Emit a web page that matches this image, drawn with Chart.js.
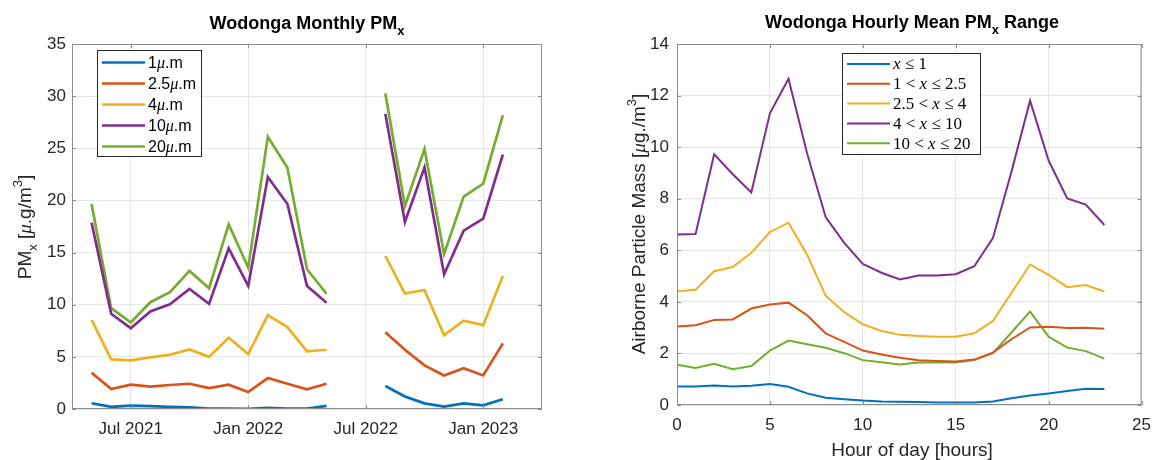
<!DOCTYPE html>
<html>
<head>
<meta charset="utf-8">
<script src="https://cdn.jsdelivr.net/npm/chart.js@4.4.1/dist/chart.umd.min.js"></script>
<style>
  body { margin: 0; background: #fff; width: 1161px; height: 460px; overflow: hidden; position: relative; }
  #monthlyChart { position: absolute; left: 0; top: 0; }
  #hourlyChart { position: absolute; left: 580px; top: 0; }
</style>
</head>
<body>
<canvas id="monthlyChart" width="580" height="460"></canvas>
<canvas id="hourlyChart" width="581" height="460"></canvas>
<script>
// ---- monthly data (left) ----
const months = ['2021-05', '2021-06', '2021-07', '2021-08', '2021-09', '2021-10', '2021-11', '2021-12',
                '2022-01', '2022-02', '2022-03', '2022-04', '2022-05', '2022-06', '2022-07', '2022-08',
                '2022-09', '2022-10', '2022-11', '2022-12', '2023-01', '2023-02'];
const pm1  = [0.55, 0.2, 0.33, 0.27, 0.2, 0.15, 0.05, 0.03, 0.02, 0.1, 0.03, 0.03, 0.3, null, null, 2.2, 1.2, 0.54, 0.22, 0.54, 0.35, 0.93];
const pm25 = [3.48, 1.91, 2.33, 2.14, 2.3, 2.42, 2.0, 2.33, 1.63, 2.97, 2.42, 1.88, 2.42, null, null, 7.37, 5.68, 4.18, 3.22, 3.92, 3.22, 6.29];
const pm4  = [8.55, 4.75, 4.66, 4.95, 5.2, 5.71, 5.0, 6.83, 5.26, 9.0, 7.85, 5.52, 5.68, null, null, 14.68, 11.07, 11.42, 7.08, 8.46, 8.04, 12.76];
const pm10 = [17.87, 9.13, 7.75, 9.35, 10.05, 11.52, 10.08, 15.4, 11.8, 22.24, 19.66, 11.8, 10.18, null, null, 28.3, 17.93, 23.17, 12.92, 17.1, 18.25, 24.4];
const pm20 = [19.65, 9.67, 8.3, 10.24, 11.2, 13.24, 11.58, 17.7, 13.56, 26.1, 23.13, 13.4, 11.04, null, null, 30.25, 19.46, 24.92, 14.87, 20.36, 21.6, 28.17];
const axisStart = '2021-04';
const axisEnd = '2023-04';
const xTickMonths = ['2021-07', '2022-01', '2022-07', '2023-01'];
const xTickLabels = ['Jul 2021', 'Jan 2022', 'Jul 2022', 'Jan 2023'];

// ---- hourly data (right) ----
const hours = [0, 1, 2, 3, 4, 5, 6, 7, 8, 9, 10, 11, 12, 13, 14, 15, 16, 17, 18, 19, 20, 21, 22, 23];
const rangeLe1   = [0.72, 0.72, 0.76, 0.72, 0.75, 0.81, 0.71, 0.45, 0.28, 0.22, 0.17, 0.14, 0.13, 0.12, 0.1, 0.1, 0.1, 0.14, 0.26, 0.37, 0.45, 0.54, 0.63, 0.62];
const range1to25 = [3.04, 3.09, 3.3, 3.32, 3.74, 3.9, 3.97, 3.48, 2.78, 2.45, 2.11, 1.96, 1.83, 1.74, 1.71, 1.69, 1.76, 2.03, 2.55, 3.01, 3.03, 2.99, 3.0, 2.96];
const range25to4 = [4.4, 4.47, 5.19, 5.35, 5.9, 6.71, 7.07, 5.83, 4.24, 3.6, 3.13, 2.87, 2.72, 2.68, 2.65, 2.65, 2.78, 3.26, 4.35, 5.45, 5.05, 4.57, 4.65, 4.4];
const range4to10 = [6.61, 6.63, 9.72, 8.95, 8.24, 11.31, 12.65, 9.76, 7.29, 6.29, 5.47, 5.13, 4.87, 5.02, 5.02, 5.07, 5.38, 6.47, 9.05, 11.8, 9.48, 8.01, 7.77, 6.98];
const range10to20 = [1.56, 1.44, 1.6, 1.39, 1.51, 2.11, 2.5, 2.36, 2.22, 2.01, 1.74, 1.66, 1.57, 1.65, 1.65, 1.65, 1.74, 2.01, 2.81, 3.62, 2.65, 2.23, 2.09, 1.8];

const colors = ['#0072BD', '#D95319', '#EDB120', '#7E2F8E', '#77AC30'];
const sans = "'Liberation Sans', Arial, sans-serif";
const serif = "'Liberation Serif', 'Times New Roman', serif";
const textColor = '#262626';

function monthIndex(s) {
    const [y, m] = s.split('-').map(Number);
    const [y0, m0] = axisStart.split('-').map(Number);
    return (y - y0) * 12 + (m - m0);
}

// draw a run of text pieces with different fonts / offsets
function drawRich(ctx, parts, x, y, align) {
    let w = 0;
    parts.forEach(p => { ctx.font = p.font; w += ctx.measureText(p.t).width; });
    let cx = align === 'center' ? x - w / 2 : x;
    parts.forEach(p => {
        ctx.font = p.font;
        ctx.fillText(p.t, cx, y + (p.dy || 0));
        cx += ctx.measureText(p.t).width;
    });
}

// axes box, inward ticks, title, axis labels and legend, MATLAB style
const matlabPlugin = {
    id: 'matlab',
    afterDatasetsDraw(chart, args, opts) {
        const ctx = chart.ctx;
        const a = chart.chartArea;
        const xs = chart.scales.x, ys = chart.scales.y;
        ctx.save();
        ctx.strokeStyle = '#8c8c8c';
        ctx.lineWidth = 1;
        ctx.strokeRect(a.left + 0.5, a.top + 0.5, a.right - a.left - 1, a.bottom - a.top - 1);
        ctx.beginPath();
        xs.ticks.forEach(t => {
            const px = Math.round(xs.getPixelForValue(t.value)) + 0.5;
            ctx.moveTo(px, a.bottom); ctx.lineTo(px, a.bottom - 4);
            ctx.moveTo(px, a.top); ctx.lineTo(px, a.top + 4);
        });
        ys.ticks.forEach(t => {
            const py = Math.round(ys.getPixelForValue(t.value)) + 0.5;
            ctx.moveTo(a.left, py); ctx.lineTo(a.left + 4, py);
            ctx.moveTo(a.right, py); ctx.lineTo(a.right - 4, py);
        });
        ctx.stroke();
        ctx.restore();
    },
    afterDraw(chart, args, opts) {
        const ctx = chart.ctx;
        ctx.save();
        ctx.fillStyle = '#000';
        ctx.textBaseline = 'alphabetic';
        drawRich(ctx, opts.title, opts.titleX, opts.titleY, 'center');

        ctx.fillStyle = textColor;
        if (opts.xLabel) drawRich(ctx, opts.xLabel, opts.xLabelX, opts.xLabelY, 'center');
        ctx.save();
        ctx.translate(opts.yLabelX, opts.yLabelY);
        ctx.rotate(-Math.PI / 2);
        drawRich(ctx, opts.yLabel, 0, 0, 'center');
        ctx.restore();

        const L = opts.legend;
        ctx.fillStyle = '#fff';
        ctx.fillRect(L.x, L.y, L.w, L.h);
        ctx.strokeStyle = '#262626';
        ctx.lineWidth = 1;
        ctx.strokeRect(L.x + 0.5, L.y + 0.5, L.w - 1, L.h - 1);
        ctx.textBaseline = 'middle';
        chart.data.datasets.forEach((ds, i) => {
            const ry = L.y + L.first + i * L.step;
            ctx.strokeStyle = ds.borderColor;
            ctx.lineWidth = L.lineWidth;
            ctx.beginPath();
            ctx.moveTo(L.x + 5, ry); ctx.lineTo(L.x + 5 + L.sample, ry);
            ctx.stroke();
            ctx.fillStyle = '#000';
            drawRich(ctx, L.labels[i], L.x + 8 + L.sample, ry + 1, 'left');
        });
        ctx.restore();
    }
};

function lineSet(data, i, width) {
    return {
        data: data,
        borderColor: colors[i],
        backgroundColor: colors[i],
        borderWidth: width,
        pointRadius: 0,
        tension: 0,
        spanGaps: false
    };
}

const tickFont = { family: sans, size: 17 };
const gridColor = '#e6e6e6';

// ---------- left chart ----------
const monthX = months.map(monthIndex);
const toPts = arr => arr.map((v, i) => ({ x: monthX[i], y: v }));
const muLabel = pre => [
    { t: pre, font: '16px ' + sans },
    { t: 'μ', font: 'italic 16px ' + serif },
    { t: '.m', font: '16px ' + sans }
];

new Chart(document.getElementById('monthlyChart'), {
    type: 'line',
    data: {
        datasets: [
            lineSet(toPts(pm1), 0, 2.7),
            lineSet(toPts(pm25), 1, 2.7),
            lineSet(toPts(pm4), 2, 2.7),
            lineSet(toPts(pm10), 3, 2.7),
            lineSet(toPts(pm20), 4, 2.7)
        ]
    },
    options: {
        responsive: false,
        animation: false,
        devicePixelRatio: 1,
        layout: { padding: { left: 0, right: 38, top: 44, bottom: 0 } },
        plugins: {
            legend: { display: false },
            tooltip: { enabled: false },
            matlab: {
                title: [
                    { t: 'Wodonga Monthly PM', font: 'bold 18px ' + sans },
                    { t: 'x', font: 'bold 13px ' + sans, dy: 6 }
                ],
                titleX: 307, titleY: 29,
                yLabel: [
                    { t: 'PM', font: '19px ' + sans },
                    { t: 'x', font: '13px ' + sans, dy: 6 },
                    { t: ' [', font: '19px ' + sans },
                    { t: 'μ', font: 'italic 19px ' + serif },
                    { t: '.g/m', font: '19px ' + sans },
                    { t: '3', font: '13px ' + sans, dy: -9 },
                    { t: ']', font: '19px ' + sans }
                ],
                yLabelX: 31, yLabelY: 227,
                legend: {
                    x: 97, y: 50, w: 105, h: 107, first: 12.5, step: 21, sample: 43, lineWidth: 2.7,
                    labels: [muLabel('1'), muLabel('2.5'), muLabel('4'), muLabel('10'), muLabel('20')]
                }
            }
        },
        scales: {
            x: {
                type: 'linear',
                min: monthIndex(axisStart),
                max: monthIndex(axisEnd),
                afterFit: s => { s.height = 51; },
                afterBuildTicks: s => { s.ticks = xTickMonths.map(m => ({ value: monthIndex(m) })); },
                ticks: {
                    font: tickFont, color: textColor, padding: 10, maxRotation: 0,
                    callback: v => xTickLabels[xTickMonths.map(monthIndex).indexOf(v)]
                },
                grid: { color: gridColor, drawTicks: false },
                border: { display: false }
            },
            y: {
                min: 0, max: 35,
                afterFit: s => { s.width = 72; },
                ticks: { stepSize: 5, font: tickFont, color: textColor, padding: 6 },
                grid: { color: gridColor, drawTicks: false },
                border: { display: false }
            }
        }
    },
    plugins: [matlabPlugin]
});

// ---------- right chart ----------
const hourPts = arr => arr.map((v, i) => ({ x: hours[i], y: v }));
const rel = (parts) => parts.map(p => {
    if (p === 'x') return { t: 'x', font: 'italic 17px ' + serif };
    return { t: p, font: '17px ' + serif };
});

new Chart(document.getElementById('hourlyChart'), {
    type: 'line',
    data: {
        datasets: [
            lineSet(hourPts(rangeLe1), 0, 2),
            lineSet(hourPts(range1to25), 1, 2),
            lineSet(hourPts(range25to4), 2, 2),
            lineSet(hourPts(range4to10), 3, 2),
            lineSet(hourPts(range10to20), 4, 2)
        ]
    },
    options: {
        responsive: false,
        animation: false,
        devicePixelRatio: 1,
        layout: { padding: { left: 0, right: 14, top: 44, bottom: 0 } },
        plugins: {
            legend: { display: false },
            tooltip: { enabled: false },
            matlab: {
                title: [
                    { t: 'Wodonga Hourly Mean PM', font: 'bold 18px ' + sans },
                    { t: 'x', font: 'bold 13px ' + sans, dy: 6 },
                    { t: ' Range', font: 'bold 18px ' + sans }
                ],
                titleX: 332, titleY: 28,
                xLabel: [{ t: 'Hour of day [hours]', font: '19px ' + sans }],
                xLabelX: 332, xLabelY: 456,
                yLabel: [
                    { t: 'Airborne Particle Mass [', font: '19px ' + sans },
                    { t: 'μ', font: 'italic 19px ' + serif },
                    { t: 'g./m', font: '19px ' + sans },
                    { t: '3', font: '13px ' + sans, dy: -9 },
                    { t: ']', font: '19px ' + sans }
                ],
                yLabelX: 65, yLabelY: 224,
                legend: {
                    x: 262, y: 53, w: 139, h: 102, first: 11, step: 19.8, sample: 43, lineWidth: 2,
                    labels: [
                        rel(['x', ' ≤ 1']),
                        rel(['1 < ', 'x', ' ≤ 2.5']),
                        rel(['2.5 < ', 'x', ' ≤ 4']),
                        rel(['4 < ', 'x', ' ≤ 10']),
                        rel(['10 < ', 'x', ' ≤ 20'])
                    ]
                }
            }
        },
        scales: {
            x: {
                type: 'linear',
                min: 0, max: 25,
                afterFit: s => { s.height = 55; },
                ticks: { stepSize: 5, font: tickFont, color: textColor, padding: 10, maxRotation: 0 },
                grid: { color: gridColor, drawTicks: false },
                border: { display: false }
            },
            y: {
                min: 0, max: 14,
                afterFit: s => { s.width = 97; },
                ticks: { stepSize: 2, font: tickFont, color: textColor, padding: 8 },
                grid: { color: gridColor, drawTicks: false },
                border: { display: false }
            }
        }
    },
    plugins: [matlabPlugin]
});
</script>
</body>
</html>
